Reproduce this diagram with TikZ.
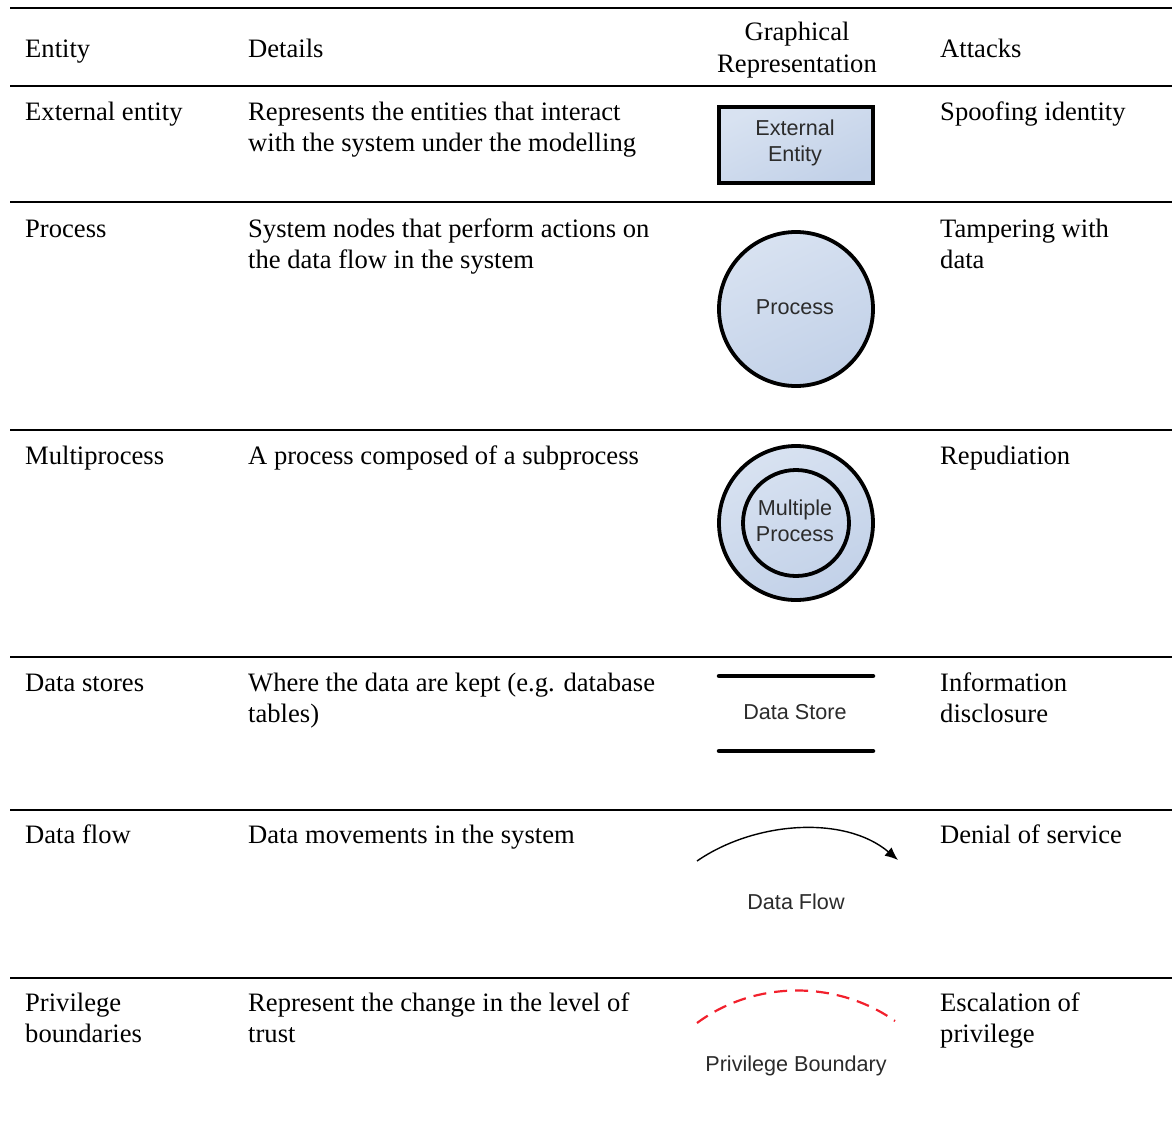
\documentclass[tikz,border=0pt]{standalone}
\usepackage{fontspec}
\setmainfont{Liberation Serif}
\newfontfamily\shapefont{Liberation Sans}
\usetikzlibrary{arrows.meta}
\definecolor{shapefilltop}{HTML}{D8E2F1}
\definecolor{shapefillbot}{HTML}{C2D1E8}
\definecolor{shapetext}{HTML}{2B2B2B}
\definecolor{boundred}{HTML}{F2202C}
% two stacked lines whose reference point is the first baseline
\newcommand{\twoline}[2]{\vtop{\hbox{#1}\hbox{#2}}}
\begin{document}
\begin{tikzpicture}[x=1pt,y=-1pt,
  cell/.style={anchor=base west,inner sep=0pt,
    font=\fontsize{26.6}{31}\selectfont},
  headc/.style={anchor=base,inner sep=0pt,
    font=\fontsize{26.6}{31}\selectfont},
  rule/.style={line width=2pt},
  shapelabel/.style={inner sep=0pt,align=center,text=shapetext,
    font=\shapefont\fontsize{21.6}{26}\selectfont},
  fillshade/.style={top color=shapefilltop,bottom color=shapefillbot,shading angle=25},
  thickedge/.style={draw=black,line width=3.8pt}]
\useasboundingbox (0,0) rectangle (1172,1124);

% table rules
\foreach \y in {8,86,202,430,657,810,978}
  \draw[rule] (10,\y) -- (1172,\y);

% header
\node[cell] (hEntity) at (25,57) {Entity};
\node[cell] (hDetails) at (248,57) {Details};
\node[headc] (hGraph1) at (797,41) {Graphical};
\node[headc] (hGraph2) at (797,72) {Representation};
\node[cell] (hAttacks) at (940,57) {Attacks};

% row: external entity
\node[cell] (eExt) at (25,120) {External entity};
\node[cell] (dExt) at (248,120) {\twoline{Represents the entities that interact}{with the system under the modelling}};
\node[cell] (aExt) at (940,120) {Spoofing identity};
\node[thickedge,fillshade,minimum width=154pt,minimum height=76pt,inner sep=0pt]
  (gExt) at (796,145) {};
\node[shapelabel] (gExtLabel) at (795,143) {External\\Entity};

% row: process
\node[cell] (eProc) at (25,237) {Process};
\node[cell] (dProc) at (248,237) {\twoline{System nodes that perform actions on}{the data flow in the system}};
\node[cell] (aProc) at (940,237) {\twoline{Tampering with}{data}};
\node[thickedge,fillshade,circle,minimum size=154pt,inner sep=0pt]
  (gProc) at (796,309) {};
\node[shapelabel] (gProcLabel) at (795,307) {Process};

% row: multiprocess
\node[cell] (eMulti) at (25,464) {Multiprocess};
\node[cell] (dMulti) at (248,464) {A process composed of a subprocess};
\node[cell] (aMulti) at (940,464) {Repudiation};
\node[thickedge,fillshade,circle,minimum size=154pt,inner sep=0pt]
  (gMultiOuter) at (796,523) {};
\node[thickedge,circle,minimum size=106pt,inner sep=0pt]
  (gMultiInner) at (796,523) {};
\node[shapelabel] (gMultiLabel) at (795,521) {Multiple\\Process};

% row: data stores
\node[cell] (eStore) at (25,691) {Data stores};
\node[cell] (dStore) at (248,691) {\twoline{Where the data are kept (e.g. database}{tables)}};
\node[cell] (aStore) at (940,691) {\twoline{Information}{disclosure}};
\coordinate (sTopL) at (719,676);
\coordinate (sTopR) at (873,676);
\coordinate (sBotL) at (719,751);
\coordinate (sBotR) at (873,751);
\draw[line width=4.5pt,line cap=round] (sTopL) -- (sTopR);
\draw[line width=4.5pt,line cap=round] (sBotL) -- (sBotR);
\node[shapelabel] (gStoreLabel) at (795,712) {Data Store};

% row: data flow
\node[cell] (eFlow) at (25,843) {Data flow};
\node[cell] (dFlow) at (248,843) {Data movements in the system};
\node[cell] (aFlow) at (940,843) {Denial of service};
\coordinate (fStart) at (697,861);
\coordinate (fEnd) at (898,860);
\draw[line width=1.4pt,-{Latex[length=13pt,width=11pt]}]
  (fStart) .. controls (755,821) and (845,815) .. (fEnd);
\node[shapelabel] (gFlowLabel) at (796,902) {Data Flow};

% row: privilege boundaries
\node[cell] (ePriv) at (25,1011) {\twoline{Privilege}{boundaries}};
\node[cell] (dPriv) at (248,1011) {\twoline{Represent the change in the level of}{trust}};
\node[cell] (aPriv) at (940,1011) {\twoline{Escalation of}{privilege}};
\coordinate (pStart) at (697,1023);
\coordinate (pEnd) at (895,1021);
\draw[boundred,line width=2.2pt,dash pattern=on 13pt off 8pt]
  (pStart) .. controls (755,980) and (837,980) .. (pEnd);
\node[shapelabel] (gPrivLabel) at (796,1066) {Privilege Boundary};
\end{tikzpicture}
\end{document}
